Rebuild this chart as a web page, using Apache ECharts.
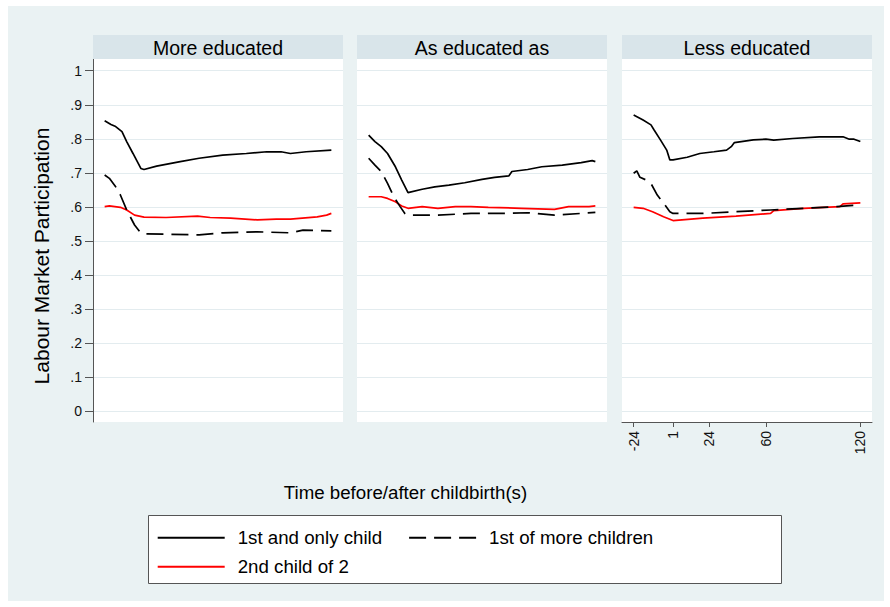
<!DOCTYPE html>
<html>
<head>
<meta charset="utf-8">
<script src="https://cdn.jsdelivr.net/npm/echarts@6/dist/echarts.min.js"></script>
<style>html,body{margin:0;padding:0;background:#fff}#c{width:890px;height:607px}</style>
</head>
<body>
<div id="c"></div>
<script>
// ---- data (months relative to childbirth, participation rate) ----
const panelTitles = ['More educated', 'As educated as', 'Less educated'];
const seriesNames = ['1st and only child', '1st of more children', '2nd child of 2'];
const yTickValues = [0, 0.1, 0.2, 0.3, 0.4, 0.5, 0.6, 0.7, 0.8, 0.9, 1];
const yTickLabels = ['0', '.1', '.2', '.3', '.4', '.5', '.6', '.7', '.8', '.9', '1'];
const xTickValues = [-24, 1, 24, 60, 120];

// More educated
const moreOnlyT = [-24, -20, -17, -13, -10, -6, -1, 1, 9, 24, 36, 51, 66, 79, 88, 94, 104, 120];
const moreOnlyV = [.853, .842, .836, .821, .792, .757, .713, .710, .720, .733, .743, .752, .757, .762, .762, .757, .762, .767];
const moreMoreT = [-24, -21, -17, -14, -10, -5, -1, 1, 15, 36, 51, 73, 94, 102, 120];
const moreMoreV = [.694, .684, .659, .635, .591, .547, .523, .521, .520, .518, .524, .527, .524, .532, .530];
const moreSecondT = [-24, -21, -14, -10, -5, 1, 15, 35, 43, 56, 73, 85, 94, 111, 117, 120];
const moreSecondV = [.601, .603, .599, .591, .576, .570, .569, .573, .569, .567, .562, .564, .564, .571, .576, .581];

// As educated as
const asOnlyT = [-24, -20, -16, -12, -7, -3, 1, 10, 18, 27, 37, 48, 56, 65, 67, 77, 86, 99, 111, 118, 120];
const asOnlyV = [.811, .792, .777, .757, .718, .679, .642, .652, .659, .664, .671, .681, .687, .691, .704, .710, .718, .723, .730, .736, .733];
const asMoreT = [-24, -20, -16, -12, -8, -4, -1, 1, 20, 41, 63, 77, 94, 111, 120];
const asMoreV = [.743, .723, .704, .669, .630, .601, .581, .576, .576, .581, .581, .583, .576, .581, .584];
const asSecondT = [-24, -16, -12, -7, -3, 1, 10, 20, 31, 41, 52, 73, 94, 103, 116, 120];
const asSecondV = [.630, .630, .625, .615, .603, .596, .601, .596, .601, .601, .599, .596, .593, .601, .601, .603];

// Less educated
const lessOnlyT = [-24, -18, -13, -11, -7, -3, -1, 1, 10, 18, 27, 35, 38, 40, 52, 60, 65, 77, 94, 109, 113, 116, 120];
const lessOnlyV = [.870, .855, .841, .826, .797, .767, .738, .738, .746, .757, .762, .767, .777, .789, .797, .799, .796, .801, .806, .806, .799, .799, .792];
const lessMoreT = [-24, -22, -20, -16, -13, -9, -5, -1, 1, 20, 41, 63, 84, 105, 120];
const lessMoreV = [.699, .706, .687, .679, .669, .635, .611, .586, .581, .581, .586, .591, .596, .601, .606];
const lessSecondT = [-24, -18, -12, -5, 1, 20, 41, 63, 65, 84, 97, 107, 109, 120];
const lessSecondV = [.599, .596, .586, .571, .560, .567, .573, .581, .589, .596, .599, .601, .609, .612];

// ---- build ----
const zip = (t, v) => t.map((x, i) => [x, v[i]]);
const panels = [
  [zip(moreOnlyT, moreOnlyV), zip(moreMoreT, moreMoreV), zip(moreSecondT, moreSecondV)],
  [zip(asOnlyT, asOnlyV), zip(asMoreT, asMoreV), zip(asSecondT, asSecondV)],
  [zip(lessOnlyT, lessOnlyV), zip(lessMoreT, lessMoreV), zip(lessSecondT, lessSecondV)]
];
const FONT = '"Liberation Sans", Arial, Helvetica, sans-serif';
const gridLefts = [93, 357, 622];
const gridW = 250, gridTop = 59, gridH = 363;
const styles = [
  {color: '#000', width: 1.7, type: 'solid'},
  {color: '#000', width: 1.7, type: [17, 8]},
  {color: '#ff0000', width: 1.7, type: 'solid'}
];

const grid = [], xAxis = [], yAxis = [], series = [];
gridLefts.forEach((l, i) => {
  grid.push({left: l, top: gridTop, width: gridW, height: gridH, show: true, backgroundColor: '#fff', borderWidth: 0, containLabel: false});
  xAxis.push({
    type: 'value', gridIndex: i, min: -31.4, max: 127.4, position: 'bottom',
    show: i === 2,
    axisLine: {show: true, onZero: false, lineStyle: {color: '#555', width: 1}},
    axisTick: {show: true, customValues: xTickValues, length: 5, lineStyle: {color: '#555'}},
    axisLabel: {show: true, customValues: xTickValues, rotate: 90, margin: 9, fontSize: 14, color: '#111', fontFamily: FONT},
    splitLine: {show: false}
  });
  yAxis.push({
    type: 'value', gridIndex: i, min: -0.0314, max: 1.0344, position: 'left',
    axisLine: {show: i === 0, onZero: false, lineStyle: {color: '#555', width: 1}},
    axisTick: {show: i === 0, customValues: yTickValues, length: 8, lineStyle: {color: '#555'}},
    axisLabel: {show: i === 0, customValues: yTickValues, margin: 11, fontSize: 14, color: '#111', fontFamily: FONT,
      formatter: v => yTickLabels[yTickValues.findIndex(t => Math.abs(t - v) < 1e-6)] || ''},
    splitLine: {show: true, lineStyle: {color: '#e3ecef', width: 1}}
  });
  panels[i].forEach((d, k) => {
    series.push({
      type: 'line', name: seriesNames[k], xAxisIndex: i, yAxisIndex: i,
      data: d, showSymbol: false, symbol: 'none', smooth: false,
      lineStyle: styles[k], itemStyle: {color: styles[k].color},
      z: k === 2 ? 2 : 3, animation: false
    });
  });
});

const graphic = [
  {type: 'rect', z: -10, shape: {x: 8, y: 6, width: 876, height: 595}, style: {fill: '#eaf2f3'}},
  {type: 'rect', z: 1, shape: {x: 148.5, y: 515.5, width: 633, height: 68}, style: {fill: '#fff', stroke: '#555', lineWidth: 1}},
  {type: 'text', z: 5, x: 41.5, y: 256, rotation: Math.PI / 2,
    style: {text: 'Labour Market Participation', fill: '#000', font: '21px ' + FONT, align: 'center', verticalAlign: 'middle'}},
  {type: 'text', z: 5, x: 405.5, y: 492.5,
    style: {text: 'Time before/after childbirth(s)', fill: '#000', font: '18.7px ' + FONT, align: 'center', verticalAlign: 'middle'}}
];
gridLefts.forEach((l, i) => {
  graphic.push({type: 'rect', z: 1, shape: {x: l, y: 35, width: gridW, height: 24}, style: {fill: '#d9e5ea'}});
  graphic.push({type: 'text', z: 5, x: l + gridW / 2, y: 47.5,
    style: {text: panelTitles[i], fill: '#000', font: '19.5px ' + FONT, align: 'center', verticalAlign: 'middle'}});
});

const legendCommon = {
  orient: 'horizontal', itemWidth: 67, itemHeight: 14, itemGap: 26, padding: 0,
  itemStyle: {opacity: 0},
  textStyle: {fontSize: 18.7, color: '#000', fontFamily: FONT, padding: [0, 0, 0, 8], lineHeight: 20},
  selectedMode: false, z: 6
};
const option = {
  backgroundColor: '#fff',
  animation: false,
  grid, xAxis, yAxis, series, graphic,
  legend: [
    Object.assign({}, legendCommon, {data: [seriesNames[0], seriesNames[1]], left: 156.7, top: 527.7}),
    Object.assign({}, legendCommon, {data: [seriesNames[2]], left: 156.7, top: 556.7})
  ]
};
const chart = echarts.init(document.getElementById('c'), null, {renderer: 'svg'});
chart.setOption(option);
</script>
</body>
</html>
